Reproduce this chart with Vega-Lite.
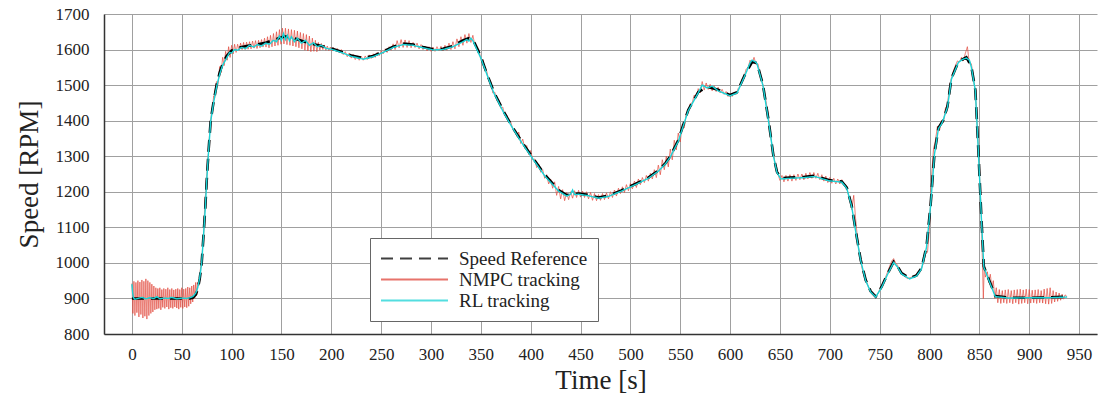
{
  "$schema": "https://vega.github.io/schema/vega-lite/v6.json",
  "autosize": {"type": "none"},
  "padding": {"left": 104, "top": 14, "right": 2, "bottom": 64},
  "width": 993,
  "height": 320,
  "background": "white",
  "datasets": {
    "ref": [
      {"t":0,"v":900},{"t":20,"v":900},{"t":40,"v":900},{"t":58,"v":900},{"t":61,"v":902},{"t":64,"v":910},{"t":66,"v":925},{"t":68,"v":955},{"t":70,"v":1000},{"t":72,"v":1085},{"t":73.5,"v":1150},{"t":75,"v":1230},{"t":77,"v":1320},{"t":79,"v":1400},{"t":82,"v":1455},{"t":85,"v":1500},{"t":88,"v":1535},{"t":91,"v":1560},{"t":95,"v":1582},{"t":100,"v":1597},{"t":105,"v":1604},{"t":115,"v":1610},{"t":125,"v":1614},{"t":135,"v":1620},{"t":145,"v":1630},{"t":153,"v":1637},{"t":162,"v":1632},{"t":175,"v":1620},{"t":190,"v":1610},{"t":200,"v":1603},{"t":210,"v":1594},{"t":220,"v":1583},{"t":232,"v":1576},{"t":242,"v":1582},{"t":252,"v":1594},{"t":262,"v":1608},{"t":272,"v":1617},{"t":282,"v":1614},{"t":292,"v":1607},{"t":302,"v":1601},{"t":312,"v":1602},{"t":322,"v":1610},{"t":332,"v":1626},{"t":338,"v":1632},{"t":342,"v":1628},{"t":346,"v":1605},{"t":350,"v":1580},{"t":355,"v":1540},{"t":363,"v":1481},{"t":373,"v":1425},{"t":381,"v":1385},{"t":391,"v":1341},{"t":401,"v":1300},{"t":414,"v":1248},{"t":428,"v":1205},{"t":436,"v":1191},{"t":448,"v":1195},{"t":458,"v":1191},{"t":468,"v":1184},{"t":478,"v":1189},{"t":491,"v":1204},{"t":505,"v":1222},{"t":518,"v":1240},{"t":528,"v":1260},{"t":535,"v":1280},{"t":540,"v":1300},{"t":548,"v":1345},{"t":558,"v":1430},{"t":568,"v":1480},{"t":577,"v":1495},{"t":588,"v":1487},{"t":600,"v":1472},{"t":607,"v":1480},{"t":615,"v":1530},{"t":622,"v":1565},{"t":627,"v":1562},{"t":633,"v":1500},{"t":638.5,"v":1402},{"t":643.5,"v":1300},{"t":647,"v":1256},{"t":651,"v":1238},{"t":660,"v":1240},{"t":675,"v":1242},{"t":685,"v":1245},{"t":699,"v":1233},{"t":712,"v":1229},{"t":717,"v":1212},{"t":722,"v":1160},{"t":726,"v":1090},{"t":731,"v":1008},{"t":736,"v":952},{"t":741,"v":920},{"t":746,"v":905},{"t":752,"v":933},{"t":758,"v":970},{"t":764,"v":1003},{"t":768,"v":990},{"t":772,"v":971},{"t":780,"v":957},{"t":787,"v":965},{"t":792,"v":985},{"t":797,"v":1046},{"t":801,"v":1160},{"t":805,"v":1308},{"t":809,"v":1380},{"t":814,"v":1402},{"t":818,"v":1440},{"t":822,"v":1519},{"t":829,"v":1566},{"t":837,"v":1578},{"t":842,"v":1552},{"t":846,"v":1486},{"t":849,"v":1317},{"t":852,"v":1130},{"t":854.5,"v":990},{"t":859,"v":957},{"t":866,"v":907},{"t":880,"v":902},{"t":900,"v":902},{"t":920,"v":903},{"t":938,"v":905}
    ],
    "nmpc": [
      {"t":0,"v":942},{"t":1,"v":858},{"t":2,"v":948},{"t":3,"v":852},{"t":4,"v":945},{"t":5,"v":860},{"t":6,"v":950},{"t":7,"v":848},{"t":8,"v":946},{"t":9,"v":855},{"t":10,"v":952},{"t":11,"v":845},{"t":12,"v":948},{"t":13,"v":850},{"t":14,"v":955},{"t":15,"v":842},{"t":16,"v":950},{"t":17,"v":852},{"t":18,"v":945},{"t":19,"v":858},{"t":20,"v":940},{"t":21,"v":862},{"t":22,"v":935},{"t":23,"v":868},{"t":24,"v":930},{"t":25,"v":870},{"t":26,"v":928},{"t":27,"v":872},{"t":28,"v":930},{"t":29,"v":868},{"t":30,"v":925},{"t":31,"v":875},{"t":32,"v":928},{"t":33,"v":872},{"t":34,"v":926},{"t":35,"v":876},{"t":36,"v":930},{"t":37,"v":870},{"t":38,"v":925},{"t":39,"v":874},{"t":40,"v":928},{"t":41,"v":872},{"t":42,"v":924},{"t":43,"v":876},{"t":44,"v":926},{"t":45,"v":873},{"t":46,"v":928},{"t":47,"v":870},{"t":48,"v":925},{"t":49,"v":875},{"t":50,"v":930},{"t":51,"v":872},{"t":52,"v":926},{"t":53,"v":876},{"t":54,"v":928},{"t":55,"v":874},{"t":56,"v":932},{"t":57,"v":878},{"t":58,"v":930},{"t":59,"v":885},{"t":60,"v":935},{"t":61,"v":890},{"t":62,"v":938},{"t":63,"v":900},{"t":64,"v":945},{"t":65,"v":910},{"t":66,"v":945},{"t":67,"v":935},{"t":68,"v":965},{"t":69,"v":990},{"t":70,"v":995},{"t":71,"v":1050},{"t":72,"v":1080},{"t":73,"v":1160},{"t":74,"v":1200},{"t":75,"v":1240},{"t":76,"v":1290},{"t":77,"v":1315},{"t":78,"v":1370},{"t":79,"v":1395},{"t":80,"v":1430},{"t":81,"v":1440},{"t":82,"v":1470},{"t":83,"v":1465},{"t":84,"v":1500},
      {"t":85,"v":1510},{"t":86.5,"v":1505},{"t":88,"v":1552},{"t":89.5,"v":1535},{"t":91,"v":1578},{"t":92.5,"v":1555},{"t":94,"v":1595},{"t":95.5,"v":1570},{"t":97,"v":1608},{"t":98.5,"v":1578},{"t":100,"v":1612},{"t":101.5,"v":1588},{"t":103,"v":1615},{"t":104.5,"v":1592},{"t":106,"v":1615},{"t":107.5,"v":1598},{"t":109,"v":1618},{"t":110.5,"v":1600},{"t":112,"v":1620},{"t":113.5,"v":1600},{"t":115,"v":1621},{"t":116.5,"v":1601},{"t":118,"v":1622},{"t":119.5,"v":1602},{"t":121,"v":1624},{"t":122.5,"v":1604},{"t":124,"v":1625},{"t":125.5,"v":1603},{"t":127,"v":1626},{"t":128.5,"v":1605},{"t":130,"v":1628},{"t":131.5,"v":1607},{"t":133,"v":1632},{"t":134.5,"v":1607},{"t":136,"v":1636},{"t":137.5,"v":1605},{"t":139,"v":1640},{"t":140.5,"v":1608},{"t":142,"v":1645},{"t":143.5,"v":1610},{"t":145,"v":1650},{"t":146.5,"v":1612},{"t":148,"v":1656},{"t":149.5,"v":1615},{"t":151,"v":1660},{"t":152.5,"v":1616},{"t":154,"v":1660},{"t":155.5,"v":1614},{"t":157,"v":1658},{"t":158.5,"v":1612},{"t":160,"v":1656},{"t":161.5,"v":1610},{"t":163,"v":1654},{"t":164.5,"v":1608},{"t":166,"v":1652},{"t":167.5,"v":1605},{"t":169,"v":1648},{"t":170.5,"v":1602},{"t":172,"v":1645},{"t":173.5,"v":1598},{"t":175,"v":1642},{"t":176.5,"v":1596},{"t":178,"v":1638},{"t":179.5,"v":1594},{"t":181,"v":1632},{"t":182.5,"v":1595},{"t":184,"v":1626},{"t":185.5,"v":1594},{"t":187,"v":1620},{"t":188.5,"v":1598},{"t":190,"v":1617},{"t":191.5,"v":1600},{"t":193,"v":1613},{"t":194.5,"v":1598},{"t":196,"v":1610},{"t":197.5,"v":1597},{"t":199,"v":1607},{"t":200.5,"v":1596},
      {"t":202,"v":1606},{"t":204,"v":1596},{"t":206,"v":1603},{"t":208,"v":1592},{"t":210,"v":1600},{"t":212,"v":1586},{"t":214,"v":1594},{"t":216,"v":1580},{"t":218,"v":1590},{"t":220,"v":1576},{"t":222,"v":1586},{"t":224,"v":1572},{"t":226,"v":1582},{"t":228,"v":1570},{"t":230,"v":1581},{"t":232,"v":1570},{"t":234,"v":1582},{"t":236,"v":1572},{"t":238,"v":1585},{"t":240,"v":1575},{"t":242,"v":1588},{"t":244,"v":1578},{"t":246,"v":1592},{"t":248,"v":1583},{"t":250,"v":1597},{"t":252,"v":1588},{"t":254,"v":1602},{"t":256,"v":1592},{"t":258,"v":1608},{"t":260,"v":1598},{"t":262,"v":1616},{"t":264,"v":1600},{"t":266,"v":1625},{"t":268,"v":1605},{"t":270,"v":1628},{"t":272,"v":1606},{"t":274,"v":1627},{"t":276,"v":1606},{"t":278,"v":1625},{"t":280,"v":1605},{"t":282,"v":1620},{"t":284,"v":1606},{"t":286,"v":1618},{"t":288,"v":1602},{"t":290,"v":1614},{"t":292,"v":1600},{"t":294,"v":1610},{"t":296,"v":1596},{"t":298,"v":1608},{"t":300,"v":1595},{"t":302,"v":1607},{"t":304,"v":1595},{"t":306,"v":1608},{"t":308,"v":1596},{"t":310,"v":1609},{"t":312,"v":1596},{"t":314,"v":1612},{"t":316,"v":1598},{"t":318,"v":1618},{"t":320,"v":1600},{"t":322,"v":1622},{"t":324,"v":1602},{"t":326,"v":1630},{"t":328,"v":1608},{"t":330,"v":1636},{"t":332,"v":1612},{"t":334,"v":1642},{"t":336,"v":1618},{"t":338,"v":1645},{"t":340,"v":1620},{"t":342,"v":1640},{"t":344,"v":1612},{"t":346,"v":1605},
      {"t":348,"v":1600},{"t":350,"v":1572},{"t":352,"v":1572},{"t":354,"v":1545},{"t":356,"v":1538},{"t":358,"v":1512},{"t":360,"v":1510},{"t":362,"v":1478},{"t":364,"v":1480},{"t":366,"v":1456},{"t":368,"v":1458},{"t":370,"v":1435},{"t":372,"v":1438},{"t":374,"v":1415},{"t":376,"v":1416},{"t":378,"v":1398},{"t":380,"v":1396},{"t":382,"v":1376},{"t":384,"v":1374},{"t":386,"v":1356},{"t":388,"v":1368},{"t":390,"v":1336},{"t":392,"v":1348},{"t":394,"v":1322},{"t":396,"v":1330},{"t":398,"v":1305},{"t":400,"v":1316},{"t":402,"v":1290},{"t":404,"v":1292},{"t":406,"v":1268},{"t":408,"v":1278},{"t":410,"v":1255},{"t":412,"v":1262},{"t":414,"v":1238},{"t":416,"v":1248},{"t":418,"v":1222},{"t":420,"v":1236},{"t":422,"v":1210},{"t":424,"v":1228},{"t":426,"v":1190},{"t":428,"v":1215},{"t":430,"v":1180},{"t":432,"v":1206},{"t":434,"v":1175},{"t":436,"v":1198},{"t":438,"v":1178},{"t":440,"v":1200},{"t":442,"v":1182},{"t":444,"v":1203},{"t":446,"v":1184},{"t":448,"v":1204},{"t":450,"v":1185},{"t":452,"v":1202},{"t":454,"v":1184},{"t":456,"v":1200},{"t":458,"v":1180},{"t":460,"v":1198},{"t":462,"v":1176},{"t":464,"v":1195},{"t":466,"v":1175},{"t":468,"v":1192},{"t":470,"v":1176},{"t":472,"v":1195},{"t":474,"v":1178},{"t":476,"v":1197},{"t":478,"v":1180},{"t":480,"v":1200},{"t":482,"v":1184},{"t":484,"v":1205},{"t":486,"v":1188},{"t":488,"v":1210},{"t":490,"v":1195},{"t":492,"v":1214},{"t":494,"v":1198},{"t":496,"v":1220},{"t":498,"v":1203},{"t":500,"v":1224},{"t":502,"v":1208},{"t":504,"v":1230},{"t":506,"v":1212},{"t":508,"v":1236},{"t":510,"v":1220},{"t":512,"v":1240},{"t":514,"v":1226},{"t":516,"v":1246},{"t":518,"v":1230},{"t":520,"v":1252},{"t":522,"v":1236},{"t":524,"v":1262},{"t":526,"v":1240},{"t":528,"v":1275},{"t":530,"v":1248},{"t":532,"v":1290},{"t":534,"v":1262},{"t":536,"v":1300},{"t":538,"v":1270},{"t":540,"v":1320},{"t":542,"v":1290},{"t":544,"v":1345},{"t":546,"v":1318},{"t":548,"v":1365},{"t":550,"v":1340},{"t":552,"v":1390},{"t":554,"v":1380},{"t":556,"v":1420},{"t":558,"v":1425},{"t":560,"v":1448},{"t":562,"v":1450},{"t":564,"v":1472},{"t":566,"v":1466},{"t":568,"v":1490},{"t":570,"v":1478},{"t":572,"v":1510},{"t":574,"v":1486},{"t":576,"v":1506},{"t":578,"v":1488},{"t":580,"v":1502},{"t":582,"v":1484},{"t":584,"v":1498},{"t":586,"v":1482},{"t":588,"v":1494},{"t":590,"v":1478},{"t":592,"v":1488},{"t":594,"v":1474},{"t":596,"v":1482},{"t":598,"v":1468},{"t":600,"v":1476},{"t":602,"v":1468},{"t":604,"v":1480},{"t":606,"v":1474},{"t":608,"v":1490},{"t":610,"v":1496},{"t":612,"v":1518},{"t":614,"v":1522},{"t":616,"v":1545},{"t":618,"v":1548},{"t":620,"v":1570},{"t":622,"v":1560},{"t":624,"v":1578},{"t":626,"v":1558},{"t":628,"v":1560},{"t":630,"v":1530},{"t":632,"v":1515},{"t":634,"v":1480},{"t":636,"v":1455},{"t":638,"v":1420},{"t":640,"v":1375},{"t":642,"v":1330},{"t":644,"v":1300},{"t":646,"v":1262},{"t":648,"v":1250},{"t":650,"v":1232},
      {"t":652,"v":1246},{"t":654,"v":1228},{"t":656,"v":1246},{"t":658,"v":1230},{"t":660,"v":1248},{"t":662,"v":1230},{"t":664,"v":1248},{"t":666,"v":1232},{"t":668,"v":1250},{"t":670,"v":1234},{"t":672,"v":1250},{"t":674,"v":1234},{"t":676,"v":1252},{"t":678,"v":1236},{"t":680,"v":1254},{"t":682,"v":1238},{"t":684,"v":1254},{"t":686,"v":1238},{"t":688,"v":1252},{"t":690,"v":1234},{"t":692,"v":1248},{"t":694,"v":1230},{"t":696,"v":1244},{"t":698,"v":1226},{"t":700,"v":1240},{"t":702,"v":1224},{"t":704,"v":1238},{"t":706,"v":1222},{"t":708,"v":1236},{"t":710,"v":1222},{"t":712,"v":1234},{"t":714,"v":1222},{"t":716,"v":1220},{"t":718,"v":1198},{"t":720,"v":1180},{"t":722,"v":1150},{"t":724,"v":1190},{"t":726,"v":1120},{"t":728,"v":1060},{"t":730,"v":1020},{"t":732,"v":990},{"t":734,"v":965},{"t":736,"v":955},{"t":738,"v":938},{"t":740,"v":925},{"t":742,"v":915},{"t":744,"v":908},{"t":746,"v":906},{"t":748,"v":912},{"t":750,"v":925},{"t":752,"v":935},{"t":754,"v":945},{"t":756,"v":960},{"t":758,"v":975},{"t":760,"v":990},{"t":762,"v":1005},{"t":764,"v":1012},{"t":766,"v":1000},{"t":768,"v":993},{"t":770,"v":980},{"t":772,"v":972},{"t":774,"v":964},{"t":776,"v":960},{"t":778,"v":956},{"t":780,"v":958},{"t":782,"v":960},{"t":784,"v":962},{"t":786,"v":966},{"t":788,"v":970},{"t":790,"v":975},{"t":792,"v":985},{"t":794,"v":1000},{"t":796,"v":1025},{"t":798,"v":1030},{"t":800,"v":1100},{"t":802,"v":1240},{"t":804,"v":1320},{"t":806,"v":1345},{"t":808,"v":1385},{"t":810,"v":1372},{"t":812,"v":1400},{"t":814,"v":1395},{"t":816,"v":1435},{"t":818,"v":1445},{"t":820,"v":1495},{"t":822,"v":1520},{"t":824,"v":1540},{"t":826,"v":1555},{"t":828,"v":1568},{"t":830,"v":1565},{"t":832,"v":1578},{"t":834,"v":1568},{"t":836,"v":1590},{"t":838,"v":1608},{"t":840,"v":1560},{"t":842,"v":1560},{"t":844,"v":1520},{"t":846,"v":1480},{"t":848,"v":1380},{"t":850,"v":1260},{"t":852,"v":1130},{"t":854,"v":900},{"t":855,"v":1000},{"t":856,"v":960},{"t":858,"v":975},{"t":859.5,"v":945},
      {"t":861,"v":968},{"t":862.5,"v":930},{"t":864,"v":950},{"t":865.5,"v":900},{"t":867,"v":930},{"t":868.5,"v":888},{"t":870,"v":925},{"t":871.5,"v":886},{"t":873,"v":922},{"t":874.5,"v":888},{"t":876,"v":924},{"t":877.5,"v":886},{"t":879,"v":925},{"t":880.5,"v":888},{"t":882,"v":922},{"t":883.5,"v":885},{"t":885,"v":924},{"t":886.5,"v":888},{"t":888,"v":925},{"t":889.5,"v":884},{"t":891,"v":926},{"t":892.5,"v":886},{"t":894,"v":924},{"t":895.5,"v":888},{"t":897,"v":926},{"t":898.5,"v":885},{"t":900,"v":925},{"t":901.5,"v":887},{"t":903,"v":923},{"t":904.5,"v":888},{"t":906,"v":924},{"t":907.5,"v":886},{"t":909,"v":925},{"t":910.5,"v":888},{"t":912,"v":922},{"t":913.5,"v":887},{"t":915,"v":926},{"t":916.5,"v":885},{"t":918,"v":928},{"t":919.5,"v":884},{"t":921,"v":930},{"t":922.5,"v":886},{"t":924,"v":922},{"t":925.5,"v":890},{"t":927,"v":918},{"t":928.5,"v":892},{"t":930,"v":915},{"t":931.5,"v":895},{"t":933,"v":912},{"t":934.5,"v":898},{"t":936,"v":910},{"t":938,"v":905}
    ],
    "rl": [
      {"t":0,"v":940},{"t":0.8,"v":915},{"t":1.5,"v":902},{"t":3,"v":898},{"t":6,"v":900},{"t":10,"v":903},{"t":14,"v":899},{"t":18,"v":902},{"t":22,"v":900},{"t":25,"v":905},{"t":28,"v":899},{"t":32,"v":901},{"t":36,"v":900},{"t":40,"v":903},{"t":45,"v":899},{"t":50,"v":901},{"t":55,"v":900},{"t":58,"v":902},{"t":61,"v":905},{"t":64,"v":915},{"t":66,"v":930},{"t":68,"v":958},{"t":70,"v":1000},{"t":72,"v":1085},{"t":73.5,"v":1150},{"t":75,"v":1230},{"t":77,"v":1318},{"t":79,"v":1398},{"t":82,"v":1452},{"t":85,"v":1496},{"t":88,"v":1530},{"t":91,"v":1556},{"t":95,"v":1576},{"t":98,"v":1592},{"t":100,"v":1590},{"t":103,"v":1600},{"t":106,"v":1598},{"t":110,"v":1606},{"t":114,"v":1603},{"t":118,"v":1612},{"t":122,"v":1607},{"t":126,"v":1614},{"t":130,"v":1610},{"t":134,"v":1618},{"t":138,"v":1615},{"t":142,"v":1626},{"t":145,"v":1622},{"t":148,"v":1638},{"t":150,"v":1626},{"t":152,"v":1645},{"t":154,"v":1628},{"t":156,"v":1640},{"t":158,"v":1625},{"t":160,"v":1636},{"t":163,"v":1622},{"t":166,"v":1632},{"t":170,"v":1618},{"t":174,"v":1626},{"t":178,"v":1612},{"t":182,"v":1619},{"t":186,"v":1608},{"t":190,"v":1612},{"t":195,"v":1603},{"t":200,"v":1601},{"t":210,"v":1592},{"t":220,"v":1581},{"t":232,"v":1573},{"t":242,"v":1580},{"t":252,"v":1592},{"t":262,"v":1606},{"t":272,"v":1614},{"t":282,"v":1612},{"t":292,"v":1605},{"t":302,"v":1599},{"t":312,"v":1600},{"t":322,"v":1608},{"t":332,"v":1622},{"t":336,"v":1628},{"t":338,"v":1624},{"t":340,"v":1632},{"t":342,"v":1625},{"t":346,"v":1600},{"t":350,"v":1576},{"t":355,"v":1538},{"t":363,"v":1478},{"t":373,"v":1422},{"t":381,"v":1383},{"t":391,"v":1338},{"t":401,"v":1297},{"t":414,"v":1245},{"t":428,"v":1202},{"t":436,"v":1188},{"t":440,"v":1193},{"t":442,"v":1205},{"t":444,"v":1192},{"t":448,"v":1193},{"t":458,"v":1189},{"t":468,"v":1182},{"t":478,"v":1187},{"t":491,"v":1202},{"t":505,"v":1220},{"t":518,"v":1238},{"t":528,"v":1258},{"t":535,"v":1278},{"t":540,"v":1298},{"t":548,"v":1342},{"t":558,"v":1428},{"t":568,"v":1478},{"t":572,"v":1500},{"t":577,"v":1492},{"t":582,"v":1497},{"t":588,"v":1484},{"t":600,"v":1470},{"t":607,"v":1478},{"t":615,"v":1528},{"t":620,"v":1562},{"t":622,"v":1570},{"t":625,"v":1566},{"t":627,"v":1560},{"t":633,"v":1498},{"t":638.5,"v":1400},{"t":643.5,"v":1300},{"t":647,"v":1254},{"t":651,"v":1236},{"t":660,"v":1238},{"t":675,"v":1240},{"t":685,"v":1243},{"t":699,"v":1231},{"t":712,"v":1227},{"t":717,"v":1210},{"t":722,"v":1158},{"t":726,"v":1088},{"t":731,"v":1006},{"t":736,"v":950},{"t":741,"v":918},{"t":746,"v":904},{"t":752,"v":931},{"t":758,"v":968},{"t":764,"v":1001},{"t":768,"v":988},{"t":772,"v":969},{"t":780,"v":955},{"t":787,"v":963},{"t":792,"v":983},{"t":797,"v":1044},{"t":801,"v":1158},{"t":805,"v":1306},{"t":809,"v":1378},{"t":812,"v":1390},{"t":814,"v":1404},{"t":818,"v":1438},{"t":822,"v":1517},{"t":829,"v":1564},{"t":833,"v":1572},{"t":837,"v":1576},{"t":840,"v":1570},{"t":842,"v":1550},{"t":846,"v":1484},{"t":849,"v":1315},{"t":852,"v":1128},{"t":854.5,"v":988},{"t":859,"v":955},{"t":866,"v":905},{"t":880,"v":901},{"t":900,"v":902},{"t":920,"v":902},{"t":938,"v":904}
    ]
  },
  "encoding": {
    "x": {
      "field": "t", "type": "quantitative",
      "scale": {"domain": [-28, 968], "nice": false, "zero": false},
      "axis": {"title": "Time [s]", "format": "d", "values": [0,50,100,150,200,250,300,350,400,450,500,550,600,650,700,750,800,850,900,950], "labelPadding": 12, "titlePadding": 5}
    },
    "y": {
      "field": "v", "type": "quantitative",
      "scale": {"domain": [800, 1700], "nice": false, "zero": false},
      "axis": {"title": "Speed [RPM]", "format": "d", "values": [800,900,1000,1100,1200,1300,1400,1500,1600,1700], "labelPadding": 15, "titlePadding": 12}
    }
  },
  "layer": [
    {
      "data": {"name": "nmpc"},
      "mark": {"type": "line", "strokeWidth": 1, "opacity": 0.75},
      "encoding": {
        "color": {"datum": "NMPC tracking", "type": "nominal"},
        "strokeDash": {"datum": "NMPC tracking", "type": "nominal"}
      }
    },
    {
      "data": {"name": "ref"},
      "mark": {"type": "line", "strokeWidth": 2.6},
      "encoding": {
        "color": {"datum": "Speed Reference", "type": "nominal"},
        "strokeDash": {"datum": "Speed Reference", "type": "nominal"}
      }
    },
    {
      "data": {"name": "rl"},
      "mark": {"type": "line", "strokeWidth": 1.4},
      "encoding": {
        "color": {
          "datum": "RL tracking", "type": "nominal",
          "scale": {"domain": ["Speed Reference", "NMPC tracking", "RL tracking"], "range": ["#000000", "#e0453a", "#1ad3d6"]},
          "legend": {"title": null}
        },
        "strokeDash": {
          "datum": "RL tracking", "type": "nominal",
          "scale": {"domain": ["Speed Reference", "NMPC tracking", "RL tracking"], "range": [[12, 7], [1, 0], [1, 0]]},
          "legend": {"title": null}
        }
      }
    }
  ],
  "config": {
    "view": {"stroke": null},
    "font": "Liberation Serif",
    "axis": {
      "labelFont": "Liberation Serif", "labelFontSize": 17, "labelColor": "#222222",
      "titleFont": "Liberation Serif", "titleFontSize": 27, "titleFontWeight": "normal", "titleColor": "#222222",
      "ticks": false, "domainColor": "#333333", "domainWidth": 1.5,
      "gridColor": "#a0a0a0", "gridWidth": 1, "gridOpacity": 1
    },
    "legend": {
      "orient": "none", "legendX": 266, "legendY": 224,
      "title": null,
      "strokeColor": "#666666", "fillColor": "white", "padding": 10,
      "symbolType": "stroke", "symbolSize": 4489, "symbolStrokeWidth": 2,
      "clipHeight": 21, "rowPadding": 0, "labelOffset": 10,
      "labelFont": "Liberation Serif", "labelFontSize": 19, "labelColor": "#222222"
    }
  }
}
